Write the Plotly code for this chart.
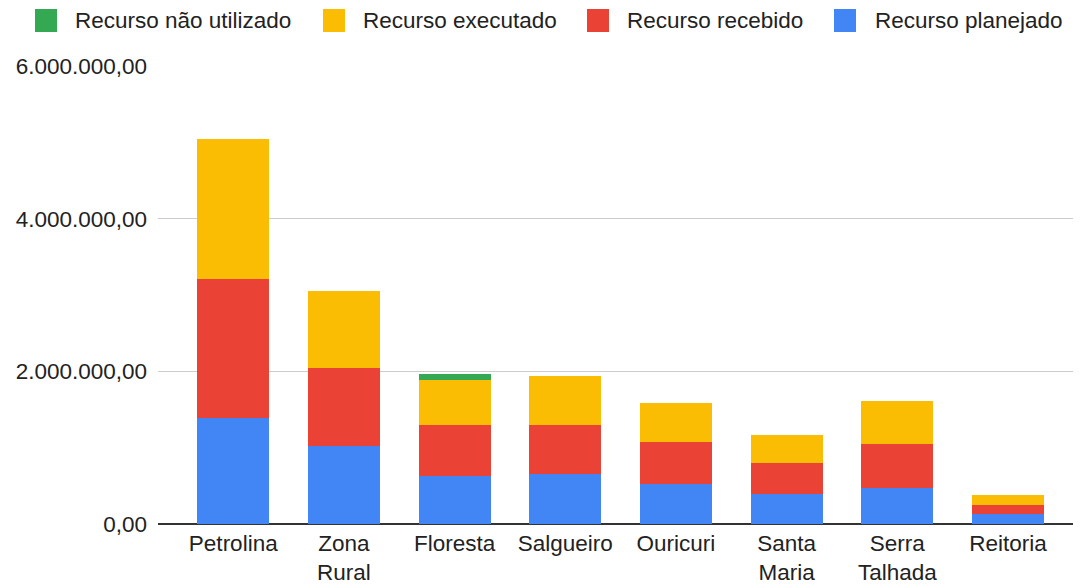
import plotly.graph_objects as go

categories = ["Petrolina", "Zona<br>Rural", "Floresta", "Salgueiro", "Ouricuri",
              "Santa<br>Maria", "Serra<br>Talhada", "Reitoria"]
planejado = [1395000, 1024000, 627000, 649000, 523000, 397000, 475000, 126000]
recebido = [1812000, 1015000, 667000, 645000, 549000, 400000, 571000, 122000]
executado = [1840000, 1020000, 597000, 645000, 519000, 375000, 571000, 127000]
nao_utilizado = [0, 0, 70000, 0, 0, 0, 0, 0]

series_names = ["Recurso planejado", "Recurso recebido", "Recurso executado", "Recurso não utilizado"]
series_colors = ["#4285F4", "#EA4335", "#FBBC04", "#34A853"]
tick_vals = [0, 2000000, 4000000, 6000000]

# the page body has an 8px margin; figure is sized/offset to compensate
OFF = 8
W, H = 1081 - OFF, 584 - OFF
L, R, T, B = 158 - OFF, 0, 66 - OFF, 60
PW, PH = W - L - R, H - T - B
FONT = "Arial, Liberation Sans, sans-serif"
FS = 22.5

fig = go.Figure()
for name, vals, col in zip(series_names, [planejado, recebido, executado, nao_utilizado], series_colors):
    fig.add_trace(go.Bar(x=categories, y=vals, name=name, marker_color=col,
                         marker_line_width=0, width=0.65, showlegend=False))

# custom legend (Google-charts style), order: não utilizado, executado, recebido, planejado
legend_sq_x = [35, 323, 587, 834]
legend_txt_x = [73, 361, 625, 873]
shapes, annots = [], []
def px2x(px):
    return (px - OFF - L) / PW
def py2y(py):
    return (H - B - (py - OFF)) / PH
for i, idx in enumerate([3, 2, 1, 0]):
    x0 = legend_sq_x[i]
    shapes.append(dict(type="rect", xref="paper", yref="paper",
                       x0=px2x(x0), x1=px2x(x0 + 22), y0=py2y(32), y1=py2y(9),
                       fillcolor=series_colors[idx], line=dict(width=0), layer="above"))
    annots.append(dict(xref="paper", yref="paper", x=px2x(legend_txt_x[i]), y=py2y(20),
                       xanchor="left", yanchor="middle", showarrow=False,
                       text=series_names[idx], font=dict(family=FONT, size=FS, color="#222222")))

fig.update_layout(
    barmode="stack",
    width=W, height=H,
    margin=dict(l=L, r=R, t=T, b=B, autoexpand=False),
    paper_bgcolor="white", plot_bgcolor="white",
    separators=",.",
    font=dict(family=FONT, size=FS, color="#222222"),
    showlegend=False,
    shapes=shapes, annotations=annots,
    xaxis=dict(range=[-0.68, 7.66], showgrid=False, showline=False, ticks="",
               automargin=False, ticklabelstandoff=3,
               tickfont=dict(size=FS, color="#222222")),
    yaxis=dict(range=[0, 6000000], tickvals=tick_vals, tickformat=",.2f",
               gridcolor="#cccccc", gridwidth=1, zeroline=True, zerolinecolor="#333333",
               zerolinewidth=2, ticks="", automargin=False, ticklabelstandoff=10,
               tickfont=dict(size=FS, color="#222222")),
)
fig.write_html("out.html")
